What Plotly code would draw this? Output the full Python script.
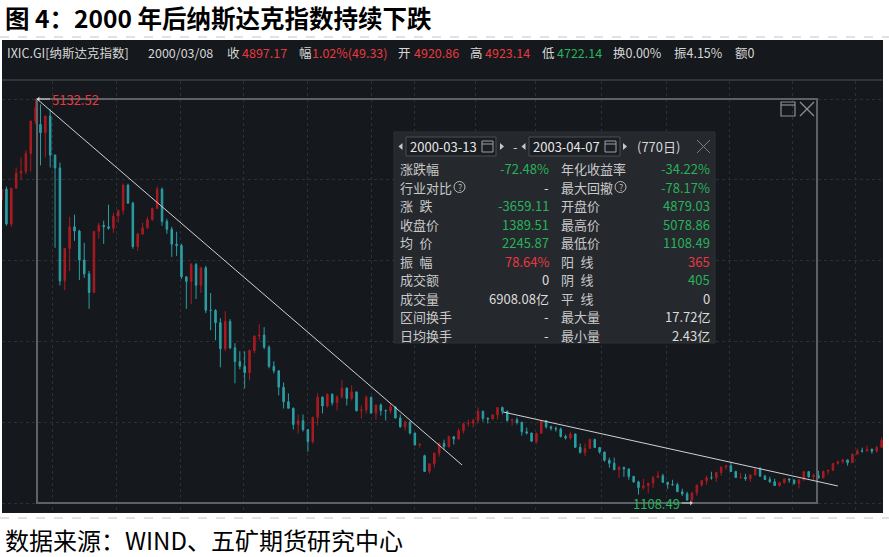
import pandas as pd
import plotly.graph_objects as go

# weekly candles (open, high, low, close), weeks starting 2000-01-17
ohlc_2000 = [
    (4130, 4240, 4040, 4235), (4235, 4260, 3870, 3887), (3887, 4244, 3860, 4244),
    (4244, 4450, 4240, 4395), (4395, 4550, 4330, 4411), (4411, 4620, 4385, 4590),
    (4590, 4915, 4410, 4914), (4914, 5132.52, 4880, 5048), (4879, 5078.86, 4470, 4798),
    (4798, 4964, 4550, 4963), (4963, 5030, 4450, 4573), (4573, 4580, 3650, 4446),
    (4446, 4500, 3276, 3321), (3321, 3650, 3227, 3643), (3643, 3960, 3420, 3860),
    (3860, 3980, 3720, 3817), (3817, 3830, 3330, 3529), (3529, 3700, 3350, 3390),
    (3390, 3420, 3042, 3205), (3205, 3820, 3200, 3813), (3813, 3900, 3740, 3874),
    (3874, 3920, 3690, 3860), (3860, 4080, 3830, 3845), (3845, 4000, 3800, 3966),
    (3966, 4030, 3900, 4023), (4023, 4290, 3980, 4274), (4274, 4289, 4090, 4095),
    (4095, 4110, 3640, 3663), (3663, 3800, 3620, 3788), (3788, 3900, 3780, 3849),
    (3849, 3960, 3840, 3930), (3930, 4050, 3920, 4042), (4042, 4260, 4040, 4234),
    (4234, 4250, 3870, 3913), (3913, 3940, 3790, 3835), (3835, 3860, 3560, 3686),
    (3686, 3810, 3570, 3673), (3673, 3690, 3340, 3361), (3361, 3370, 3042, 3316),
    (3316, 3500, 3090, 3483), (3483, 3500, 3140, 3278), (3278, 3460, 3200, 3451),
    (3451, 3470, 3000, 3028), (3028, 3200, 2830, 3027), (3027, 3040, 2730, 2904),
    (2904, 2950, 2460, 2645), (2645, 3020, 2620, 2917), (2917, 2940, 2640, 2654),
    (2654, 2700, 2300, 2517), (2517, 2620, 2440, 2471),
]
ohlc_2001 = [
    (2471, 2620, 2250, 2407), (2407, 2640, 2330, 2626), (2626, 2780, 2600, 2771),
    (2771, 2890, 2730, 2781), (2781, 2860, 2640, 2660), (2660, 2680, 2450, 2470),
    (2470, 2520, 2400, 2425), (2425, 2430, 2180, 2262), (2262, 2310, 2050, 2117),
    (2117, 2200, 2050, 2052), (2052, 2060, 1840, 1890), (1890, 1990, 1800, 1928),
    (1928, 1990, 1820, 1840), (1840, 1845, 1619, 1720), (1720, 1970, 1700, 1961),
    (1961, 2200, 1880, 2163), (2163, 2170, 2000, 2075), (2075, 2200, 2060, 2192),
    (2192, 2200, 2080, 2107), (2107, 2180, 2030, 2166), (2166, 2330, 2150, 2252),
    (2252, 2260, 2080, 2149), (2149, 2280, 2130, 2215), (2215, 2220, 2020, 2028),
    (2028, 2080, 1950, 2034), (2034, 2180, 2000, 2160), (2160, 2170, 2000, 2004),
    (2004, 2090, 1940, 2084), (2084, 2100, 1980, 2029), (2029, 2040, 1930, 2027),
    (2027, 2100, 2000, 2066), (2066, 2070, 1950, 1956), (1956, 1990, 1860, 1867),
    (1867, 1930, 1830, 1916), (1916, 1920, 1790, 1805), (1805, 1810, 1680, 1687),
    (1687, 1700, 1660, 1695), (1580, 1590, 1423, 1423), (1423, 1500, 1400, 1499),
    (1499, 1610, 1460, 1605), (1605, 1710, 1570, 1703), (1703, 1740, 1640, 1671),
    (1671, 1780, 1660, 1769), (1769, 1770, 1690, 1746), (1746, 1850, 1740, 1828),
    (1828, 1910, 1800, 1898), (1898, 1940, 1870, 1903), (1903, 1950, 1860, 1930),
    (1930, 2060, 1900, 2021), (2021, 2030, 1920, 1953), (1953, 1960, 1900, 1945),
    (1945, 1990, 1940, 1987),
]
ohlc_2002 = [
    (1987, 2060, 1940, 2059), (2059, 2070, 1990, 2022), (2022, 2030, 1920, 1930),
    (1930, 1950, 1880, 1937), (1937, 1960, 1890, 1911), (1911, 1920, 1780, 1818),
    (1818, 1860, 1790, 1805), (1805, 1810, 1720, 1724), (1724, 1810, 1700, 1802),
    (1802, 1930, 1800, 1929), (1929, 1935, 1850, 1868), (1868, 1880, 1830, 1852),
    (1852, 1870, 1820, 1845), (1845, 1860, 1760, 1770), (1770, 1790, 1740, 1756),
    (1756, 1820, 1740, 1796), (1796, 1800, 1660, 1663), (1663, 1700, 1600, 1613),
    (1613, 1700, 1574, 1652), (1652, 1750, 1650, 1741), (1741, 1750, 1655, 1661),
    (1661, 1665, 1600, 1616), (1616, 1620, 1520, 1535), (1535, 1560, 1460, 1504),
    (1504, 1560, 1440, 1440), (1440, 1480, 1360, 1463), (1463, 1470, 1370, 1448),
    (1448, 1450, 1340, 1373), (1373, 1380, 1310, 1319), (1319, 1330, 1192, 1262),
    (1262, 1350, 1240, 1280), (1280, 1310, 1206, 1306), (1306, 1380, 1260, 1361),
    (1361, 1425, 1360, 1380), (1380, 1400, 1310, 1315), (1315, 1320, 1250, 1295),
    (1295, 1340, 1280, 1291), (1291, 1310, 1220, 1221), (1221, 1250, 1180, 1199),
    (1199, 1220, 1130, 1139), (1139, 1215, 1108.49, 1210), (1210, 1290, 1180, 1287),
    (1287, 1340, 1270, 1331), (1331, 1380, 1290, 1361), (1361, 1420, 1340, 1359),
    (1359, 1420, 1320, 1412), (1412, 1470, 1380, 1468), (1468, 1490, 1440, 1479),
    (1479, 1521, 1420, 1422), (1422, 1430, 1360, 1362), (1362, 1410, 1350, 1364),
    (1364, 1400, 1330, 1350),
]
ohlc_2003 = [
    (1350, 1390, 1320, 1388), (1388, 1450, 1380, 1448), (1448, 1467, 1370, 1376),
    (1376, 1390, 1340, 1342), (1342, 1370, 1310, 1320), (1320, 1350, 1280, 1282),
    (1282, 1320, 1270, 1310), (1310, 1350, 1300, 1349), (1349, 1350, 1310, 1337),
    (1337, 1345, 1290, 1305), (1305, 1345, 1253, 1340), (1340, 1425, 1330, 1421),
    (1421, 1425, 1360, 1369), (1369, 1400, 1335, 1383), (1383, 1430, 1350, 1358),
    (1358, 1430, 1355, 1425), (1425, 1440, 1390, 1434), (1434, 1505, 1430, 1502),
    (1502, 1530, 1490, 1520), (1520, 1550, 1500, 1538), (1538, 1540, 1480, 1510),
    (1510, 1600, 1510, 1595), (1595, 1650, 1590, 1628), (1628, 1660, 1610, 1627),
    (1627, 1680, 1620, 1644), (1644, 1650, 1600, 1625), (1625, 1680, 1610, 1663),
    (1663, 1760, 1660, 1733),
]

peak_date, peak_val = "2000-03-10", 5132.52
low_date, low_val = "2002-10-10", 1108.49
sel_start, sel_end = "2000-03-10", "2003-04-07"
trend1 = [("2000-03-10", 5132.52), ("2001-11-12", 1487)]
trend2 = [("2002-01-10", 2015), ("2003-05-07", 1278)]

grid_dates = ["2000-04-01", "2000-07-02", "2000-10-02", "2001-01-02", "2001-04-03",
              "2001-07-04", "2001-09-05", "2001-12-01", "2002-02-26", "2002-06-01",
              "2002-09-02", "2002-12-02", "2003-03-02", "2003-06-02"]
grid_prices = [1108.49, 1913.30, 2718.10, 3522.91, 4327.71, 5132.52]

header = [
    (5, "IXIC.GI[纳斯达克指数]", "#d6d6d6"), (146, "2000/03/08", "#d6d6d6"),
    (225, "收", "#d6d6d6"), (240, "4897.17", "#e8393f"),
    (297, "幅", "#d6d6d6"), (310, "1.02%(49.33)", "#e8393f"),
    (396, "开", "#d6d6d6"), (412, "4920.86", "#e8393f"),
    (468, "高", "#d6d6d6"), (483, "4923.14", "#e8393f"),
    (540, "低", "#d6d6d6"), (555, "4722.14", "#27b35b"),
    (611, "换0.00%", "#d6d6d6"), (672, "振4.15%", "#d6d6d6"), (733, "额0", "#d6d6d6"),
]

left_labels = ["涨跌幅", "行业对比", "涨\u2002跌", "收盘价", "均\u2002价",
               "振\u2002幅", "成交额", "成交量", "区间换手", "日均换手"]
left_values = ["-72.48%", "-", "-3659.11", "1389.51", "2245.87",
               "78.64%", "0", "6908.08亿", "-", "-"]
left_colors = ["g", "w", "g", "g", "g", "r", "w", "w", "w", "w"]
right_labels = ["年化收益率", "最大回撤", "开盘价", "最高价", "最低价",
                "阳\u2002线", "阴\u2002线", "平\u2002线", "最大量", "最小量"]
right_values = ["-34.22%", "-78.17%", "4879.03", "5078.86", "1108.49",
                "365", "405", "0", "17.72亿", "2.43亿"]
right_colors = ["g", "g", "g", "g", "g", "r", "g", "w", "w", "w"]

RED, TEAL = "#a91b22", "#2b9fa5"
BG = "#15181c"
FONT = "Noto Sans CJK SC"
COL = {"g": "#27b35b", "r": "#e8393f", "w": "#dcdcdc"}

rows = ohlc_2000 + ohlc_2001 + ohlc_2002 + ohlc_2003
weeks = pd.date_range("2000-01-19", periods=len(rows), freq="7D")

W, H = 889, 557
ML, MR, MT, MB = 2, 6, 81, 44


def xp(px):
    return (px - ML) / (W - ML - MR)


def yp(py):
    return (H - MB - py) / (H - MT - MB)


fig = go.Figure(go.Candlestick(
    x=weeks,
    open=[r[0] for r in rows], high=[r[1] for r in rows],
    low=[r[2] for r in rows], close=[r[3] for r in rows],
    increasing=dict(line=dict(color=RED, width=1), fillcolor=RED),
    decreasing=dict(line=dict(color=TEAL, width=1), fillcolor=TEAL),
    hoverinfo="skip",
))

shapes = []


def pline(x0, y0, x1, y1, color, width=1, dash="solid"):
    shapes.append(dict(type="line", xref="paper", yref="paper",
                       x0=xp(x0), y0=yp(y0), x1=xp(x1), y1=yp(y1),
                       line=dict(color=color, width=width, dash=dash)))


def prect(x0, y0, x1, y1, fill, line="rgba(0,0,0,0)", width=1):
    shapes.append(dict(type="rect", xref="paper", yref="paper",
                       x0=xp(x0), y0=yp(y1), x1=xp(x1), y1=yp(y0),
                       fillcolor=fill, line=dict(color=line, width=width)))


def ppath(pts, fill):
    d = "M " + " L ".join(f"{xp(a)},{yp(b)}" for a, b in pts) + " Z"
    shapes.append(dict(type="path", xref="paper", yref="paper", path=d,
                       fillcolor=fill, line=dict(width=0)))


# dark panel header strip, separators
prect(ML, 40, W - MR, MT, BG)
pline(ML, 80, W - MR, 80, "#3b3e44", 1.5)
pline(0, 37, W, 37, "#c4c4c4", 1, "dash")
pline(0, 518, W, 518, "#c4c4c4", 1, "dash")

# selection box and trend lines (data coords)
shapes.append(dict(type="rect", xref="x", yref="y", x0=sel_start, x1=sel_end,
                   y0=low_val, y1=peak_val, line=dict(color="#5e6166", width=2)))
for (a, b) in (trend1, trend2):
    shapes.append(dict(type="line", xref="x", yref="y", x0=a[0], y0=a[1],
                       x1=b[0], y1=b[1], line=dict(color="#cfd2d6", width=1)))

# box icons top-right of selection
prect(781, 102, 795, 116, "rgba(0,0,0,0)", "#8c9096", 1.2)
pline(781, 105, 795, 105, "#8c9096", 1.2)
pline(800, 102, 814, 116, "#8c9096", 1.2)
pline(800, 116, 814, 102, "#8c9096", 1.2)

# stats panel
prect(394, 132, 715, 343, "#25282d", "#2e3136")
prect(406, 137, 496, 156, "#1b1e22", "#4a4e54")
prect(529, 137, 620, 156, "#1b1e22", "#4a4e54")
for cx in (482, 605):
    prect(cx, 141, cx + 11, 152, "rgba(0,0,0,0)", "#9aa0a6", 1)
    pline(cx, 144, cx + 11, 144, "#9aa0a6", 1)
ppath([(402.5, 143), (398.5, 146.5), (402.5, 150)], "#c8c8c8")
ppath([(500, 143), (504, 146.5), (500, 150)], "#c8c8c8")
ppath([(525.5, 143), (521.5, 146.5), (525.5, 150)], "#c8c8c8")
ppath([(623, 143), (627, 146.5), (623, 150)], "#c8c8c8")
pline(697, 140, 710, 153, "#7b7f85", 1)
pline(697, 153, 710, 140, "#7b7f85", 1)
for cx in (459.5, 620.5):
    shapes.append(dict(type="circle", xref="paper", yref="paper",
                       x0=xp(cx - 5.5), x1=xp(cx + 5.5), y0=yp(187 + 5.5), y1=yp(187 - 5.5),
                       line=dict(color="#b8b8b8", width=1)))

ann = []


def ptext(x, y, text, color, size=12.5, anchor="left"):
    ann.append(dict(xref="paper", yref="paper", x=xp(x), y=yp(y), text=text,
                    showarrow=False, xanchor=anchor, yanchor="middle",
                    font=dict(family=FONT, size=size, color=color)))


ptext(3, 17, "<b>图 4：2000 年后纳斯达克指数持续下跌</b>", "#000000", 24.5)
ptext(3, 539, "数据来源：WIND、五矿期货研究中心", "#000000", 24)

for x, t, c in header:
    ptext(x, 52, t, c, 12.5)

ptext(408, 146.5, "2000-03-13", "#e6e6e6", 13)
ptext(531, 146.5, "2003-04-07", "#e6e6e6", 13)
ptext(511, 146.5, "-", "#c8c8c8", 13)
ptext(635, 146.5, "(770日)", "#d6d6d6", 13)
for cx in (459.5, 620.5):
    ptext(cx, 187, "?", "#b8b8b8", 9, "center")

for i in range(len(left_labels)):
    y = 168.5 + 18.5 * i
    ptext(398, y, left_labels[i], "#c9c9c9", 13)
    ptext(551, y, left_values[i], COL[left_colors[i]], 13, "right")
    ptext(559, y, right_labels[i], "#c9c9c9", 13)
    ptext(712, y, right_values[i], COL[right_colors[i]], 13, "right")

# extreme value labels
ann.append(dict(x=peak_date, y=peak_val, xref="x", yref="y", text="5132.52",
                showarrow=True, ax=13, ay=0, xanchor="left", yanchor="middle",
                arrowhead=1, arrowsize=0.8, arrowwidth=1, arrowcolor="#d0d0d0",
                font=dict(family=FONT, size=13, color="#e8393f")))
ann.append(dict(x=low_date, y=low_val, xref="x", yref="y", text="1108.49",
                showarrow=True, ax=-11, ay=0, xanchor="right", yanchor="middle",
                arrowhead=1, arrowsize=0.8, arrowwidth=1, arrowcolor="#d0d0d0",
                font=dict(family=FONT, size=13, color="#27b35b")))

axis_style = dict(showticklabels=False, ticks="", showgrid=True, gridcolor="#2c3035",
                  griddash="dot", gridwidth=1, zeroline=False, showline=False,
                  fixedrange=True)

fig.update_layout(
    template="none",
    width=W, height=H,
    margin=dict(l=ML, r=MR, t=MT, b=MB, pad=0),
    paper_bgcolor="white",
    plot_bgcolor=BG,
    showlegend=False,
    boxgap=0.55,
    xaxis=dict(type="date", range=["2000-01-19 14:38", "2003-07-11"],
               tickvals=grid_dates, rangeslider=dict(visible=False), **axis_style),
    yaxis=dict(range=[1008.9, 5311.8], tickvals=grid_prices, **axis_style),
    shapes=shapes,
    annotations=ann,
)

# page body has a default 8px margin; drop it so the figure sits at the window origin
fig.write_html("out.html", config={"displayModeBar": False},
               post_script="document.body.style.margin='0';")
